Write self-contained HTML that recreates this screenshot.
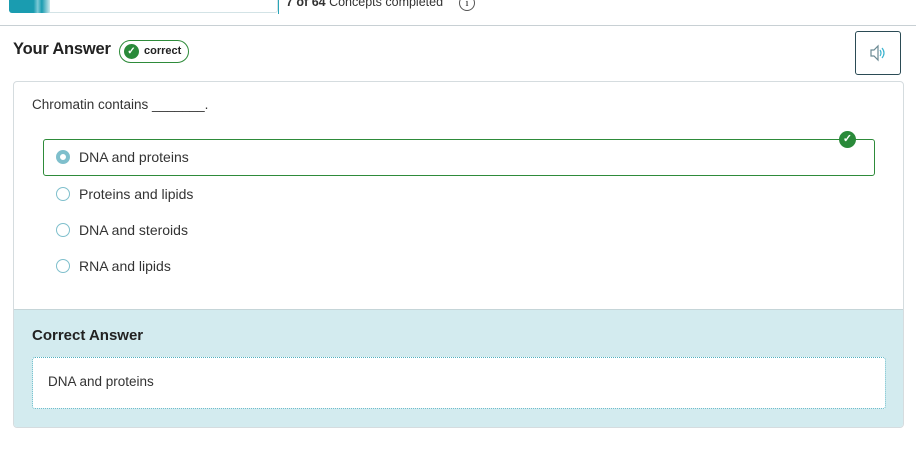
<!DOCTYPE html>
<html><head><style>
body{margin:0;width:916px;height:457px;background:#fff;font-family:"Liberation Sans",sans-serif;color:#222;position:relative;overflow:hidden}
.a{position:absolute}
.radio{position:absolute;left:56px;width:12px;height:12px;border:1.5px solid #7fbfcc;border-radius:50%;background:#fff}
.opt{position:absolute;left:79px;font-size:14px;color:#333}
</style></head><body>
<div class="a" style="left:9px;top:-6px;width:269px;height:19px;border:1px solid #d3e3e6;border-radius:3px;box-sizing:border-box;background:#fff"></div>
<div class="a" style="left:9px;top:-6px;width:41px;height:19px;background:linear-gradient(90deg,#1a9cb0 60%,#7ccad6 70%,#1a9cb0 80%,#cfeaee);border-radius:3px 0 0 3px"></div>
<div class="a" style="left:278px;top:0;width:1px;height:14px;background:#2aa5b8"></div>
<div class="a" style="left:286px;top:-5px;font-size:12.5px;color:#333"><b>7 of 64</b> Concepts completed</div>
<div class="a" style="left:459px;top:-5px;width:14px;height:14px;border:1px solid #555;border-radius:50%;font:11px 'Liberation Serif',serif;text-align:center;line-height:14px">i</div>
<div class="a" style="left:0;top:25px;width:916px;height:1px;background:#c8d0d4"></div>
<div class="a" style="left:13px;top:40px;font-size:16.5px;font-weight:bold;color:#222;letter-spacing:-0.2px">Your Answer</div>
<div class="a" style="left:119px;top:40px;width:70px;height:23px;border:1px solid #2e8b3a;border-radius:12px;box-sizing:border-box"></div>
<div class="a" style="left:124px;top:44px;width:15px;height:15px;border-radius:50%;background:#2a8a3a;color:#fff;font-size:10px;text-align:center;line-height:15px;font-weight:bold">✓</div>
<div class="a" style="left:144px;top:45px;font-size:11px;font-weight:bold;color:#222">correct</div>
<div class="a" style="left:855px;top:31px;width:46px;height:44px;border:1px solid #2b4b55;border-radius:3px;box-sizing:border-box"></div>
<svg class="a" style="left:868px;top:44px" width="20" height="18"><path d="M3 6h3l4-4v14l-4-4H3z" fill="none" stroke="#6b8a93" stroke-width="1.2"/><path d="M12 6q2 3 0 6M14 4q4 5 0 10" fill="none" stroke="#3bb3cf" stroke-width="1.2"/></svg>
<div class="a" style="left:13px;top:81px;width:891px;height:347px;border:1px solid #d5dcdf;border-radius:4px;box-sizing:border-box;overflow:hidden">
 <div class="a" style="left:0;top:227px;width:891px;height:120px;background:#d3ebef;border-top:1px solid #c5d5d8"></div>
</div>
<div class="a" style="left:32px;top:97px;font-size:13.5px;color:#333">Chromatin contains _______.</div>
<div class="a" style="left:43px;top:139px;width:832px;height:37px;border:1px solid #2e8b3a;border-radius:3px;box-sizing:border-box"></div>
<div class="a" style="left:839px;top:131px;width:17px;height:17px;border-radius:50%;background:#2a8a3a;color:#fff;font-size:11px;text-align:center;line-height:17px;font-weight:bold">✓</div>
<div class="radio" style="top:150px;border:4px solid #7fbfcc;width:6px;height:6px"></div>
<div class="opt" style="top:149px">DNA and proteins</div>
<div class="radio" style="top:187px"></div><div class="opt" style="top:186px">Proteins and lipids</div>
<div class="radio" style="top:223px"></div><div class="opt" style="top:222px">DNA and steroids</div>
<div class="radio" style="top:259px"></div><div class="opt" style="top:258px">RNA and lipids</div>
<div class="a" style="left:32px;top:327px;font-size:15px;font-weight:bold;color:#222">Correct Answer</div>
<div class="a" style="left:32px;top:357px;width:854px;height:52px;background:#fff;border:1px dotted #4fb0c0;border-radius:3px;box-sizing:border-box"></div>
<div class="a" style="left:48px;top:374px;font-size:13.5px;color:#333">DNA and proteins</div>
</body></html>
